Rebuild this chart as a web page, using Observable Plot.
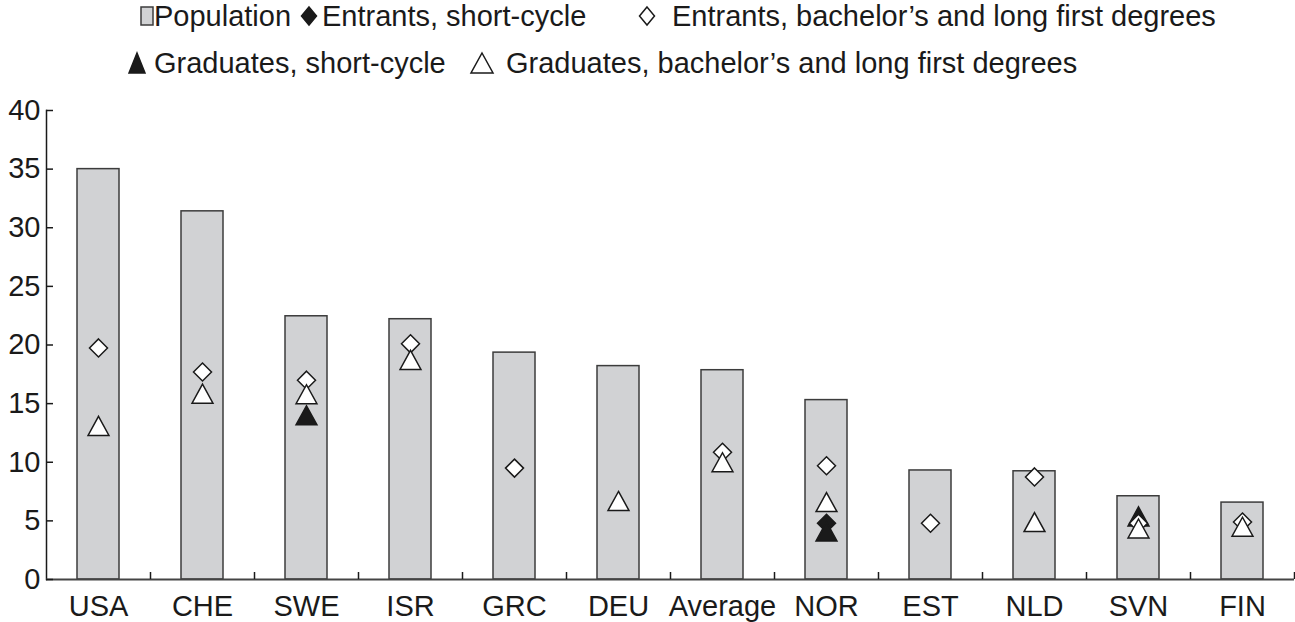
<!DOCTYPE html>
<html>
<head>
<meta charset="utf-8">
<script src="https://cdn.jsdelivr.net/npm/d3@7"></script>
<script src="https://cdn.jsdelivr.net/npm/@observablehq/plot@0.6"></script>
<style>
  html, body { margin: 0; padding: 0; background: #fff; }
  body { width: 1295px; height: 622px; overflow: hidden; font-family: "Liberation Sans", Arial, Helvetica, sans-serif; color: #1a1a1a; }
  #legend { position: relative; width: 1295px; height: 90px; font-size: 29px; }
  .item { position: absolute; white-space: nowrap; line-height: 1; }
  .item svg { position: absolute; overflow: visible; }
  #chart svg { display: block; }
</style>
</head>
<body>
<div id="legend"></div>
<div id="chart"></div>
<script>
// ---- data ----
const categories = ["USA", "CHE", "SWE", "ISR", "GRC", "DEU", "Average", "NOR", "EST", "NLD", "SVN", "FIN"];
const population = [35.0, 31.4, 22.45, 22.2, 19.35, 18.2, 17.85, 15.3, 9.3, 9.23, 7.1, 6.56];
const entrantsShort = [null, null, null, null, null, null, null, 4.8, null, null, null, null];
const entrantsBachelor = [19.75, 17.7, 17.0, 20.1, 9.5, null, 10.85, 9.7, 4.8, 8.75, 4.8, 4.9];
const graduatesShort = [null, null, 14.0, null, null, null, null, 4.1, null, null, 5.38, null];
const graduatesBachelor = [13.1, 15.85, 15.8, 18.73, null, 6.7, 10.0, 6.6, null, 4.9, 4.35, 4.5];
const yTicks = [0, 5, 10, 15, 20, 25, 30, 35, 40];
const legendLabels = ["Population", "Entrants, short-cycle", "Entrants, bachelor\u2019s and long first degrees",
                      "Graduates, short-cycle", "Graduates, bachelor\u2019s and long first degrees"];

// ---- symbols (centered on bounding box) ----
const diamondSym = {draw(ctx, size) { const r = Math.sqrt(size / Math.PI);
  ctx.moveTo(0, -r); ctx.lineTo(r, 0); ctx.lineTo(0, r); ctx.lineTo(-r, 0); ctx.closePath(); }};
const triangleSym = {draw(ctx, size) { const r = Math.sqrt(size / Math.PI);
  ctx.moveTo(0, -r); ctx.lineTo(1.1 * r, r); ctx.lineTo(-1.1 * r, r); ctx.closePath(); }};

const barFill = "#d1d2d4", barStroke = "#3c3c3c", ink = "#1a1a1a";

// ---- legend ----
const legend = document.getElementById("legend");
function addItem(symbolSvg, sx, text, tx, cy) {
  const d = document.createElement("div");
  d.className = "item";
  d.style.left = "0px"; d.style.top = "0px";
  d.innerHTML = symbolSvg(sx, cy) + `<span style="position:absolute;left:${tx}px;top:${cy - 14}px">${text}</span>`;
  legend.appendChild(d);
}
const sq = (x, cy) => `<svg width="1" height="1" style="left:0;top:0"><rect x="${x}" y="${cy - 9}" width="12" height="18" fill="${barFill}" stroke="${barStroke}" stroke-width="1.5"/></svg>`;
const dia = (fill) => (x, cy) => `<svg width="1" height="1" style="left:0;top:0"><path d="M${x},${cy - 9}L${x + 7.5},${cy}L${x},${cy + 9}L${x - 7.5},${cy}Z" fill="${fill}" stroke="${ink}" stroke-width="1.5"/></svg>`;
const tri = (fill, w) => (x, cy) => `<svg width="1" height="1" style="left:0;top:0"><path d="M${x},${cy - 10}L${x + w},${cy + 10}L${x - w},${cy + 10}Z" fill="${fill}" stroke="${ink}" stroke-width="1.5"/></svg>`;
addItem(sq, 141, legendLabels[0], 154, 16);
addItem(dia(ink), 309, legendLabels[1], 322, 16);
addItem(dia("#fff"), 647, legendLabels[2], 672, 16);
addItem(tri(ink, 8), 137, legendLabels[3], 154, 63);
addItem(tri("#fff", 11), 482, legendLabels[4], 506, 63);

// ---- chart ----
const rows = categories.map((c, i) => ({
  cat: c, pop: population[i], es: entrantsShort[i], eb: entrantsBachelor[i],
  gs: graduatesShort[i], gb: graduatesBachelor[i]
}));
const W = 1295, H = 532, mL = 46, mR = 1, mT = 20, mB = 43;
const halfStep = (W - mL - mR) / categories.length / 2;

const dots = (key, sym, fill, r) => Plot.dot(rows.filter(d => d[key] != null), {
  x: "cat", y: key, symbol: sym, r, fill, stroke: ink, strokeWidth: 1.5
});

const chart = Plot.plot({
  width: W, height: H,
  marginLeft: mL, marginRight: mR, marginTop: mT, marginBottom: mB,
  style: {fontFamily: "'Liberation Sans', Arial, Helvetica, sans-serif", fontSize: "29px", color: ink, background: "#fff", overflow: "visible"},
  x: {domain: categories, paddingInner: 0.6, paddingOuter: 0.3, label: null},
  y: {domain: [0, 40], label: null},
  marks: [
    Plot.barY(rows, {x: "cat", y: "pop", fill: barFill, stroke: barStroke, strokeWidth: 1.5}),
    dots("es", diamondSym, ink, 9),
    dots("gs", triangleSym, ink, 9.5),
    dots("eb", diamondSym, "#fff", 9),
    dots("gb", triangleSym, "#fff", 9.5),
    Plot.frame({anchor: "left", stroke: ink, strokeWidth: 1.5}),
    Plot.ruleY([0], {stroke: "#444", strokeWidth: 2}),
    Plot.axisY({ticks: yTicks, tickSize: -7, text: null, label: null, stroke: ink, strokeWidth: 1.5}),
    Plot.axisY({ticks: yTicks, tickSize: 0, tickPadding: 6, label: null, fill: ink, fontSize: 29}),
    Plot.axisX({tickSize: -7, text: null, label: null, dx: halfStep, stroke: ink, strokeWidth: 1.5}),
    Plot.axisX({tickSize: 0, tickPadding: 16, label: null, fill: ink, fontSize: 29})
  ]
});
document.getElementById("chart").appendChild(chart);
</script>
</body>
</html>
